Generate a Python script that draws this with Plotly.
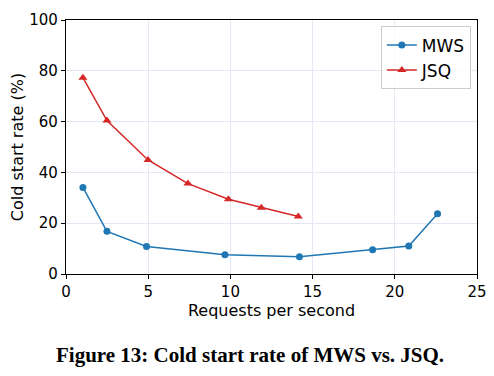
import plotly.graph_objects as go

mws_x = [1.03, 2.49, 4.9, 9.67, 14.2, 18.65, 20.85, 22.6]
mws_y = [34.1, 16.8, 10.8, 7.6, 6.8, 9.5, 11.0, 23.7]
jsq_x = [1.03, 2.49, 4.99, 7.42, 9.88, 11.88, 14.13]
jsq_y = [77.3, 60.4, 44.9, 35.6, 29.4, 26.1, 22.6]

fig = go.Figure()
fig.add_trace(go.Scatter(x=mws_x, y=mws_y, mode="lines+markers", name="MWS",
                         line=dict(color="#1f77b4", width=1.5),
                         marker=dict(symbol="circle", size=7, color="#1f77b4")))
fig.add_trace(go.Scatter(x=jsq_x, y=jsq_y, mode="lines+markers", name="JSQ",
                         line=dict(color="#d62728", width=1.5),
                         marker=dict(symbol="triangle-up", size=8, color="#d62728")))

axis_common = dict(showline=True, linecolor="black", linewidth=1.2, mirror=True,
                   ticks="outside", ticklen=4, tickcolor="black",
                   gridcolor="#e6e6f5", gridwidth=1, zeroline=False, automargin=False,
                   tickfont=dict(family="DejaVu Sans", size=15, color="black"))

fig.update_layout(
    width=486, height=368,
    margin=dict(l=58, r=17, t=12, b=102),
    paper_bgcolor="white", plot_bgcolor="white",
    font=dict(family="DejaVu Sans", color="black"),
    xaxis=dict(range=[0, 25], dtick=5, title=dict(text="Requests per second",
               font=dict(size=16), standoff=0), **axis_common),
    yaxis=dict(range=[0, 100], dtick=20, title=dict(text="Cold start rate (%)",
               font=dict(size=16), standoff=6), **axis_common),
    legend=dict(x=0.985, y=0.975, xanchor="right", yanchor="top",
                bgcolor="rgba(255,255,255,0.8)", bordercolor="#cccccc", borderwidth=1,
                font=dict(size=17, family="DejaVu Sans")),
    showlegend=True,
    annotations=[dict(text="<b>Figure 13: Cold start rate of MWS vs. JSQ.</b>",
                      xref="paper", yref="paper", x=0.448, y=-0.319,
                      xanchor="center", yanchor="middle", showarrow=False,
                      font=dict(family="Liberation Serif", size=21, color="black"))],
)

fig.write_html("out.html")
